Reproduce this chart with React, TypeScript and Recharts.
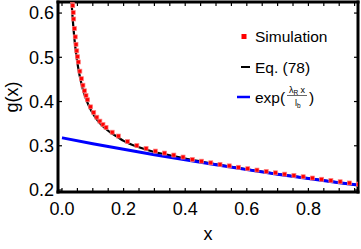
import { ComposedChart, Scatter, Line, XAxis, YAxis, Legend } from 'recharts';

// simulation points (red squares)
const simX = [
  0.033, 0.034, 0.035, 0.0365, 0.038, 0.0405, 0.043, 0.0455, 0.048, 0.0505, 0.053, 0.058, 0.063, 0.068,
  0.073, 0.078, 0.083, 0.093, 0.103, 0.113, 0.123, 0.133, 0.143, 0.163, 0.183, 0.213, 0.243, 0.273,
  0.303, 0.333, 0.363, 0.393, 0.423, 0.453, 0.483, 0.513, 0.543, 0.573, 0.603, 0.633, 0.663, 0.693,
  0.723, 0.753, 0.783, 0.813, 0.843, 0.873, 0.903, 0.933, 0.963,
];
const simY = [
  0.6405, 0.6284, 0.6169, 0.6011, 0.5866, 0.565, 0.5461, 0.5294, 0.5146, 0.5013, 0.4894, 0.4687, 0.4516, 0.4369,
  0.4243, 0.4135, 0.404, 0.388, 0.3752, 0.3646, 0.3557, 0.3481, 0.3416, 0.3307, 0.322, 0.3095, 0.3005, 0.294,
  0.288, 0.2835, 0.279, 0.2745, 0.269, 0.2652, 0.2615, 0.258, 0.2546, 0.2514, 0.2482, 0.2451, 0.242, 0.2389,
  0.2359, 0.233, 0.23, 0.2271, 0.2243, 0.2214, 0.2187, 0.2159, 0.2132,
];

// Eq. (78)
const eqX = [
  0.028, 0.03, 0.031, 0.032, 0.0335, 0.035, 0.0375, 0.04, 0.0425, 0.045, 0.0475, 0.05, 0.055, 0.06, 0.065,
  0.07, 0.075, 0.08, 0.09, 0.1, 0.11, 0.12, 0.13, 0.14, 0.16, 0.18, 0.2, 0.25, 0.3, 0.35, 0.4, 0.45, 0.5,
  0.6, 0.7, 0.8, 0.9, 0.96,
];
const eqY = [
  0.665, 0.6385, 0.6264, 0.6149, 0.5991, 0.5846, 0.563, 0.5441, 0.5274, 0.5126, 0.4993, 0.4874, 0.4667, 0.4496, 0.4349,
  0.4223, 0.4115, 0.402, 0.386, 0.3732, 0.3626, 0.3537, 0.3461, 0.3396, 0.3287, 0.32, 0.311, 0.2965, 0.286, 0.2785, 0.271, 0.2645, 0.2583,
  0.2467, 0.2361, 0.2262, 0.2167, 0.2112,
];

// exp(λR x / lb)
const expX = [0, 0.1, 0.2, 0.3, 0.4, 0.5, 0.6, 0.7, 0.8, 0.9, 0.96];
const expY = [0.318, 0.3047, 0.292, 0.2798, 0.2681, 0.2569, 0.2461, 0.2358, 0.226, 0.2166, 0.2111];

const xTicks = [0, 0.05, 0.1, 0.15, 0.2, 0.25, 0.3, 0.35, 0.4, 0.45, 0.5, 0.55, 0.6, 0.65, 0.7, 0.75, 0.8, 0.85, 0.9, 0.95];
const yTicks = [0.2, 0.3, 0.4, 0.5, 0.6];

const simulation = simX.map((x, i) => ({ x, y: simY[i] }));
const eq78 = eqX.map((x, i) => ({ x, y: eqY[i] }));
const expFit = expX.map((x, i) => ({ x, y: expY[i] }));

const FONT = '"Liberation Sans", Arial, sans-serif';
const xDomain = [-0.013, 0.961];
const yDomain = [0.1955, 0.625];
const frame = { stroke: '#000', strokeWidth: 3, strokeLinecap: 'square' };
const tickStroke = { stroke: '#000', strokeWidth: 1.2 };

const isMajor = (v: number) => Math.abs(v * 5 - Math.round(v * 5)) < 1e-6;

const Square = (props: any) => (
  <rect x={props.cx - 2} y={props.cy - 2} width={4} height={4} fill="#ff0000" stroke="#ff8080" strokeWidth={0.7} />
);

const LegendBox = () => (
  <svg width={361} height={120} style={{ display: 'block', fontFamily: FONT }}>
    <rect x={241.5} y={34} width={5} height={5} fill="#ff0000" />
    <text x={255} y={41.5} fontSize={15.5} fill="#000">Simulation</text>
    <line x1={241} x2={250} y1={67} y2={67} stroke="#000" strokeWidth={2} />
    <text x={255} y={72.5} fontSize={15.5} fill="#000">Eq. (78)</text>
    <line x1={237} x2={250} y1={97} y2={97} stroke="#0000ff" strokeWidth={2.5} />
    <text x={255} y={102.5} fontSize={15.5} fill="#000">exp(</text>
    <text x={297} y={93} fontSize={9} fill="#000" textAnchor="middle">
      λ<tspan fontSize={6.5} dy={1.5}>R</tspan><tspan dy={-1.5}> x</tspan>
    </text>
    <line x1={287} x2={307} y1={95.5} y2={95.5} stroke="#000" strokeWidth={0.6} />
    <text x={295} y={106} fontSize={9} fill="#000">
      l<tspan fontSize={6.5} dy={1.5}>b</tspan>
    </text>
    <text x={309} y={102.5} fontSize={15.5} fill="#000">)</text>
  </svg>
);

export default function App() {
  return (
    <div style={{ position: 'absolute', left: 0, top: 0, background: '#fff' }}>
      <ComposedChart width={361} height={249} margin={{ top: 1, right: 2, bottom: 0, left: 0 }} style={{ fontFamily: FONT }}>
        <XAxis
          dataKey="x"
          type="number"
          domain={xDomain}
          allowDataOverflow
          ticks={xTicks}
          interval={0}
          tickFormatter={(v: number) => (isMajor(v) ? v.toFixed(1) : '')}
          tickSize={-4}
          tickMargin={14}
          height={57}
          axisLine={frame}
          tickLine={tickStroke}
          tick={{ fill: '#000', fontSize: 18 }}
          label={({ viewBox }: any) => (
            <text x={viewBox.x + viewBox.width / 2} y={viewBox.y + 48} textAnchor="middle" fontSize={18} fill="#000">
              x
            </text>
          )}
        />
        <XAxis
          xAxisId="top"
          dataKey="x"
          orientation="top"
          type="number"
          domain={xDomain}
          allowDataOverflow
          ticks={xTicks}
          interval={0}
          tickFormatter={() => ''}
          tickSize={-4}
          height={1}
          axisLine={frame}
          tickLine={tickStroke}
        />
        <YAxis
          type="number"
          domain={yDomain}
          allowDataOverflow
          ticks={yTicks}
          interval={0}
          tickFormatter={(v: number) => v.toFixed(1)}
          tickSize={-4}
          tickMargin={8}
          width={58}
          axisLine={frame}
          tickLine={tickStroke}
          tick={{ fill: '#000', fontSize: 18 }}
          label={({ viewBox }: any) => {
            const cx = viewBox.x + 18;
            const cy = viewBox.y + viewBox.height / 2;
            return (
              <text x={cx} y={cy} transform={`rotate(-90 ${cx} ${cy})`} textAnchor="middle" fontSize={18} fill="#000">
                g(x)
              </text>
            );
          }}
        />
        <YAxis
          yAxisId="right"
          orientation="right"
          type="number"
          domain={yDomain}
          allowDataOverflow
          ticks={yTicks}
          interval={0}
          tickFormatter={() => ''}
          tickSize={-4}
          width={1}
          axisLine={frame}
          tickLine={tickStroke}
        />
        <Legend
          layout="vertical"
          align="center"
          verticalAlign="middle"
          wrapperStyle={{ left: 0, top: 0, width: 361 }}
          content={() => <LegendBox />}
        />
        <Scatter name="Simulation" data={simulation} dataKey="y" shape={Square} isAnimationActive={false} />
        <Line name="Eq. (78)" data={eq78} dataKey="y" type="monotone" stroke="#000" strokeWidth={2.2} dot={false} isAnimationActive={false} />
        <Line
          name="exp"
          xAxisId="top"
          yAxisId="right"
          data={expFit}
          dataKey="y"
          type="monotone"
          stroke="#0000ff"
          strokeWidth={3}
          dot={false}
          isAnimationActive={false}
        />
      </ComposedChart>
    </div>
  );
}
